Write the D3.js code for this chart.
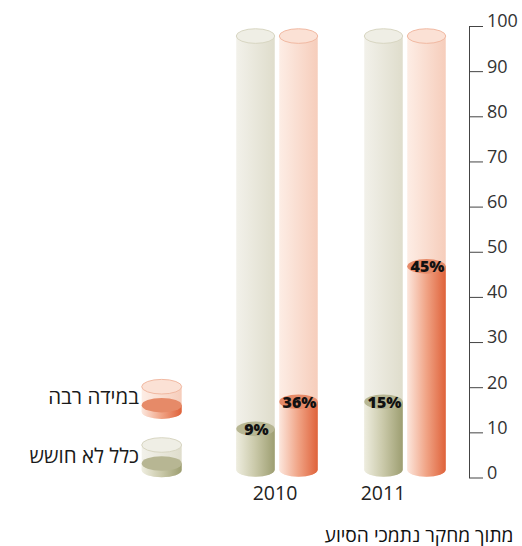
<!DOCTYPE html>
<html><head><meta charset="utf-8">
<script src="https://cdn.jsdelivr.net/npm/d3@7/dist/d3.min.js"></script>
<style>
html,body{margin:0;padding:0;background:#fff;}
svg{display:block;font-family:"Open Sans","DejaVu Sans",sans-serif;}
</style></head>
<body>
<svg id="chart" width="522" height="546"></svg>
<script>
// ---- data ----
const years = ["2010", "2011"];
const seriesKeys = ["notAtAll", "veryMuch"];
const seriesNames = ["כלל לא חושש", "במידה רבה"];
const notAtAllValues = [9, 15];      // printed percentages
const veryMuchValues = [36, 45];
// fill level of each column as drawn in the reference (2010 "36%" column is drawn at ~15)
const notAtAllLevels = [9, 15];
const veryMuchLevels = [15, 45];
const tickValues = [0, 10, 20, 30, 40, 50, 60, 70, 80, 90, 100];
const sourceText = "מתוך מחקר נתמכי הסיוע";

// ---- setup ----
const svg = d3.select("#chart");
const defs = svg.append("defs");
function hGrad(id, stops) {
  const g = defs.append("linearGradient").attr("id", id)
    .attr("x1", 0).attr("x2", 1).attr("y1", 0).attr("y2", 0);
  stops.forEach(([o, c, op]) => g.append("stop").attr("offset", o).attr("stop-color", c).attr("stop-opacity", op == null ? 1 : op));
}
hGrad("bgGrey", [[0, "#f2f1ea"], [1, "#dfddcc"]]);
hGrad("bgOrange", [[0, "#fdede5"], [1, "#f6cdbb"]]);
hGrad("fillGrey", [[0, "#eeeddf"], [0.5, "#c9c8a8"], [1, "#9d9e71"]]);
hGrad("fillOrange", [[0, "#fce6dc"], [0.5, "#f0a385"], [1, "#df623a"]]);

const style = {
  notAtAll: { bg: "url(#bgGrey)", bgTop: "#efeee5", bgStroke: "#d8d6c2", fill: "url(#fillGrey)", top: "#b7b693" },
  veryMuch: { bg: "url(#bgOrange)", bgTop: "#fbe1d5", bgStroke: "#f1b9a2", fill: "url(#fillOrange)", top: "#e68a68" }
};

const yAxisScale = d3.scaleLinear().domain([0, 100]).range([477.5, 26]);
const yCyl = d3.scaleLinear().domain([0, 100]).range([469.5, 18]);
const x = d3.scaleBand().domain(years).range([213, 469]);
const xInner = d3.scalePoint().domain(seriesKeys).range([-21.5, 21.5]);
const cylW = 38.5, ry = 7.3;

function cylinder(g, cx, w, yTop, yBot, r, bodyFill, topFill, topStroke) {
  const l = cx - w / 2, rt = cx + w / 2;
  g.append("path")
    .attr("d", `M${l},${yTop} L${l},${yBot} A${w / 2},${r} 0 0 0 ${rt},${yBot} L${rt},${yTop} Z`)
    .attr("fill", bodyFill);
  g.append("ellipse").attr("cx", cx).attr("cy", yTop).attr("rx", w / 2).attr("ry", r)
    .attr("fill", topFill).attr("stroke", topStroke || "none").attr("stroke-width", 1);
}

const levels = { notAtAll: notAtAllLevels, veryMuch: veryMuchLevels };
const values = { notAtAll: notAtAllValues, veryMuch: veryMuchValues };

const plot = svg.append("g");
years.forEach((yr, i) => {
  seriesKeys.forEach(k => {
    const cx = x(yr) + x.bandwidth() / 2 + xInner(k);
    const g = plot.append("g");
    const s = style[k];
    cylinder(g, cx, cylW, yCyl(96), yCyl(0), ry, s.bg, s.bgTop, s.bgStroke);
    const yt = yCyl(levels[k][i]);
    cylinder(g, cx, cylW, yt, yCyl(0), ry, s.fill, s.top, null);
    g.append("text").attr("x", cx + 1).attr("y", yt + 6)
      .attr("text-anchor", "middle").attr("font-size", 16).attr("font-weight", 800)
      .attr("fill", "#111").text(values[k][i] + "%");
  });
});

// year labels
const yearNudge = [-2, -22];
svg.append("g").selectAll("text").data(years).join("text")
  .attr("x", (d, i) => x(d) + x.bandwidth() / 2 + yearNudge[i])
  .attr("y", 499.5).attr("text-anchor", "middle")
  .attr("font-size", 19.5).attr("fill", "#222").text(d => d);

// axis
const axis = svg.append("g").attr("transform", "translate(469,0)")
  .call(d3.axisRight(yAxisScale).tickValues(tickValues).tickSize(14).tickSizeOuter(0).tickPadding(4).tickFormat(d3.format("d")));
axis.select(".domain").attr("stroke", "#444");
axis.selectAll(".tick line").attr("stroke", "#444");
axis.selectAll(".tick text").attr("font-size", 18).attr("fill", "#333")
  .attr("font-family", "'Open Sans','DejaVu Sans',sans-serif").attr("dy", "0.05em");

// legend
const legend = svg.append("g");
const legendKeys = ["veryMuch", "notAtAll"];
legendKeys.forEach((k, i) => {
  const top = 386.7 + i * 58.3;
  const s = style[k];
  cylinder(legend, 161.7, 40, top, top + 25, ry, s.bg, s.bgTop, s.bgStroke);
  cylinder(legend, 161.7, 40, top + 18.5, top + 25, ry, s.fill, s.top, null);
  legend.append("text").attr("x", 139).attr("y", top + 17.5)
    .attr("text-anchor", "end").attr("font-size", 20.5).attr("fill", "#1a1a1a")
    .text(seriesNames[seriesKeys.indexOf(k)]);
});

// source
svg.append("text").attr("x", 513.5).attr("y", 541.5).attr("text-anchor", "end")
  .attr("font-size", 19.2).attr("fill", "#111").text(sourceText);
</script>
</body></html>
